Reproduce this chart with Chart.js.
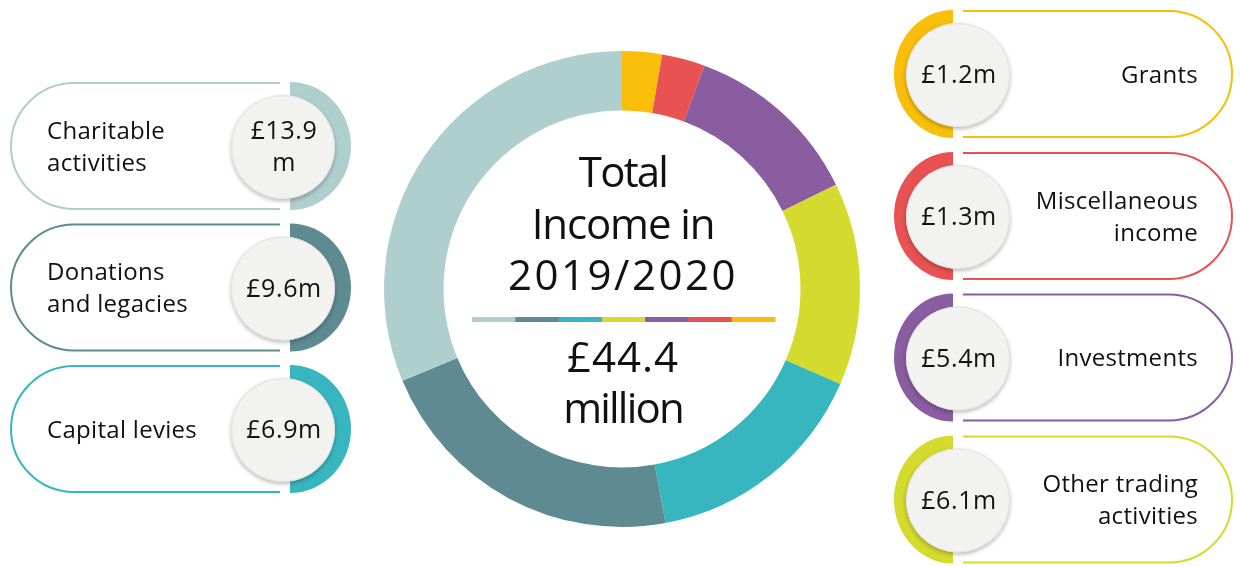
<!DOCTYPE html>
<html>
<head>
<meta charset="utf-8">
<script src="https://cdn.jsdelivr.net/npm/chart.js@4.4.1/dist/chart.umd.min.js"></script>
<style>
  html, body { margin: 0; padding: 0; background: #ffffff; }
  #wrap { width: 1240px; height: 567px; position: relative; }
</style>
</head>
<body>
<div id="wrap"><canvas id="c" width="1240" height="567"></canvas></div>
<script>
// ---- Data ----
const categories = ['Grants', 'Miscellaneous income', 'Investments', 'Other trading activities', 'Capital levies', 'Donations and legacies', 'Charitable activities'];
const values = [1.2, 1.3, 5.4, 6.1, 6.9, 9.6, 13.9];
const colors = ['#F8BE0A', '#E95252', '#8A5CA0', '#D5DA2E', '#38B6C0', '#5E8A91', '#AFCECE'];
const cardLabelLines = [['Grants'], ['Miscellaneous', 'income'], ['Investments'], ['Other trading', 'activities'], ['Capital levies'], ['Donations', 'and legacies'], ['Charitable', 'activities']];
const badgeLines = [['£1.2m'], ['£1.3m'], ['£5.4m'], ['£6.1m'], ['£6.9m'], ['£9.6m'], ['£13.9', 'm']];
const centreTitle = ['Total', 'Income in', '2019/2020'];
const centreUnit = 'million';

const FONT = '"Open Sans", "Liberation Sans", sans-serif';
const total = values.reduce((a, b) => a + b, 0);

function halfEllipse(ctx, cx, cy, rx, ry, side) {
  ctx.beginPath();
  if (side === 'right') {
    ctx.ellipse(cx, cy, rx, ry, 0, -Math.PI / 2, Math.PI / 2, false);
  } else {
    ctx.ellipse(cx, cy, rx, ry, 0, Math.PI / 2, Math.PI * 1.5, false);
  }
  ctx.closePath();
}

function spaced(ctx, px) {
  if ('letterSpacing' in ctx) ctx.letterSpacing = px + 'px';
}

const cardsPlugin = {
  id: 'cards',
  afterDraw(chart) {
    const ctx = chart.ctx;
    const meta = chart.getDatasetMeta(0);
    const arc0 = meta.data[0];
    const cx = arc0.x;

    // ---- cards ----
    const rightTops = [10, 152, 293.5, 435.5];
    const leftTops = [365, 223.5, 82];
    const H = 128, R = 64;
    categories.forEach((cat, i) => {
      const col = colors[i];
      const isRight = i < 4;
      const top = isRight ? rightTops[i] : leftTops[i - 4];
      const mid = top + H / 2;
      ctx.save();
      // thin outline
      ctx.strokeStyle = col;
      ctx.lineWidth = 2;
      ctx.beginPath();
      if (isRight) {
        const x0 = 963, x1 = 1233;
        ctx.moveTo(x0, top + 1);
        ctx.lineTo(x1 - R, top + 1);
        ctx.arc(x1 - R, mid, R - 1, -Math.PI / 2, Math.PI / 2, false);
        ctx.lineTo(x0, top + H - 1);
      } else {
        const x0 = 280, x1 = 10;
        ctx.moveTo(x0, top + 1);
        ctx.lineTo(x1 + R, top + 1);
        ctx.arc(x1 + R, mid, R - 1, -Math.PI / 2, Math.PI / 2, true);
        ctx.lineTo(x0, top + H - 1);
      }
      ctx.stroke();
      // thick half disk
      ctx.fillStyle = col;
      if (isRight) {
        halfEllipse(ctx, 953, mid, 59, R, 'left');
      } else {
        halfEllipse(ctx, 290, mid, 61, R, 'right');
      }
      ctx.fill();
      // badge
      const bx = isRight ? 958 : 283;
      const by = mid + 1;
      const br = 52;
      ctx.save();
      ctx.shadowColor = 'rgba(0,0,0,0.28)';
      ctx.shadowBlur = 4;
      ctx.shadowOffsetY = 2;
      ctx.beginPath();
      ctx.arc(bx, by, br, 0, Math.PI * 2);
      ctx.fillStyle = '#F2F2F1';
      ctx.fill();
      ctx.restore();
      ctx.beginPath();
      ctx.arc(bx, by, br - 0.5, 0, Math.PI * 2);
      ctx.strokeStyle = '#E2E2E0';
      ctx.lineWidth = 1;
      ctx.stroke();
      // badge text
      ctx.fillStyle = '#111111';
      ctx.font = '25px ' + FONT;
      spaced(ctx, 0.6);
      ctx.textAlign = 'center';
      ctx.textBaseline = 'middle';
      const bl = badgeLines[i];
      bl.forEach((t, k) => {
        ctx.fillText(t, bx + 1, mid + (k - (bl.length - 1) / 2) * 32 + 2);
      });
      // label text
      ctx.font = '24px ' + FONT;
      spaced(ctx, 0.3);
      ctx.textAlign = isRight ? 'right' : 'left';
      const lx = isRight ? 1198 : 47;
      const ll = cardLabelLines[i];
      ll.forEach((t, k) => {
        ctx.fillText(t, lx, mid + (k - (ll.length - 1) / 2) * 32 + 2);
      });
      ctx.restore();
    });

    // ---- centre text ----
    ctx.save();
    ctx.fillStyle = '#111111';
    ctx.textAlign = 'center';
    ctx.textBaseline = 'alphabetic';
    ctx.font = '42px ' + FONT;
    const baselines = [187, 239, 290];
    const spacing = [-1.8, -1.1, 2.5];
    centreTitle.forEach((t, k) => {
      spaced(ctx, spacing[k]);
      ctx.fillText(t, cx + 1, baselines[k]);
    });
    spaced(ctx, 1);
    ctx.fillText('£' + total.toFixed(1), cx + 1, 372);
    spaced(ctx, -1.8);
    ctx.fillText(centreUnit, cx + 1, 423);
    // colour bar
    const barX0 = 472, barX1 = 775;
    const segW = (barX1 - barX0) / colors.length;
    const rev = colors.slice().reverse();
    rev.forEach((c, k) => {
      ctx.fillStyle = c;
      ctx.fillRect(barX0 + k * segW, 317, segW + 0.5, 5);
    });
    ctx.restore();
  }
};

new Chart(document.getElementById('c'), {
  type: 'doughnut',
  data: {
    labels: categories,
    datasets: [{
      data: values,
      backgroundColor: colors,
      borderWidth: 0,
      hoverOffset: 0,
      offset: 0
    }]
  },
  options: {
    responsive: false,
    animation: false,
    cutout: '75%',
    layout: { padding: { left: 384, right: 380, top: 51, bottom: 40 } },
    plugins: {
      legend: { display: false },
      tooltip: { enabled: false }
    }
  },
  plugins: [cardsPlugin]
});
</script>
</body>
</html>
